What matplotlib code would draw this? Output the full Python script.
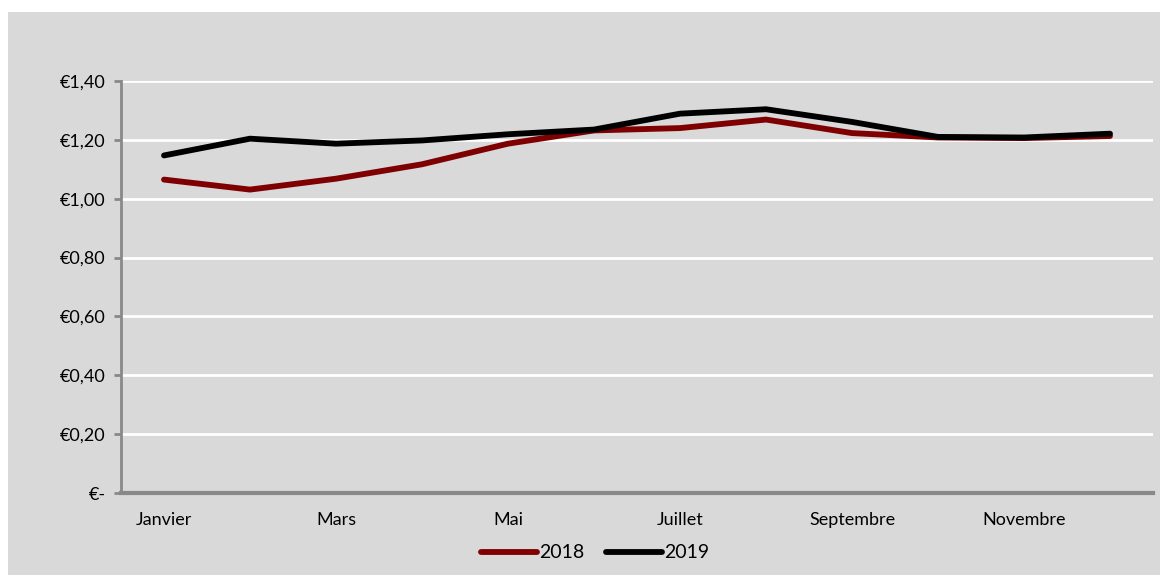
import matplotlib
matplotlib.use("Agg")
import matplotlib.pyplot as plt
from matplotlib import font_manager
from matplotlib.patches import Rectangle
from matplotlib.ticker import FuncFormatter

# données
mois = ["Janvier", "Février", "Mars", "Avril", "Mai", "Juin",
        "Juillet", "Août", "Septembre", "Octobre", "Novembre", "Décembre"]
prix_2018 = [1.065, 1.031, 1.068, 1.117, 1.187, 1.232,
             1.240, 1.269, 1.223, 1.208, 1.206, 1.213]
prix_2019 = [1.147, 1.204, 1.187, 1.198, 1.219, 1.235,
             1.289, 1.304, 1.261, 1.210, 1.208, 1.221]
y_ticks = [0, 0.2, 0.4, 0.6, 0.8, 1.0, 1.2, 1.4]

noms = {f.name for f in font_manager.fontManager.ttflist}
police = "Liberation Sans Narrow" if "Liberation Sans Narrow" in noms else "Lato"
plt.rcParams['font.family'] = [police, 'DejaVu Sans']

fond = "#d9d9d9"
gris_axe = "#898989"

fig = plt.figure(figsize=(11.68, 5.82), dpi=100, facecolor="white")
fig.patches.append(Rectangle((8 / 1168, 1 - 575 / 582), 1152 / 1168, 563 / 582,
                             transform=fig.transFigure, facecolor=fond,
                             edgecolor="none", zorder=-10))

ax = fig.add_axes([121 / 1168, 1 - 493 / 582, 1032 / 1168, 412 / 582])
ax.set_zorder(1)
ax.set_facecolor(fond)

x = list(range(len(mois)))
ax.plot(x, prix_2018, color="#7f0000", lw=4.2, solid_capstyle="round",
        solid_joinstyle="round", label="2018", zorder=3)
ax.plot(x, prix_2019, color="black", lw=4.2, solid_capstyle="round",
        solid_joinstyle="round", label="2019", zorder=4)

ax.set_xlim(-0.5, len(mois) - 0.5)
ax.set_ylim(0, 1.4)
ax.set_yticks(y_ticks)
ax.yaxis.set_major_formatter(FuncFormatter(
    lambda v, p: "€-" if v == 0 else "€" + f"{v:.2f}".replace(".", ",")))
ax.set_xticks(x[::2])
ax.set_xticklabels(mois[::2])

ax.grid(axis="y", color="white", lw=2)
ax.set_axisbelow(True)
for s in ["top", "right"]:
    ax.spines[s].set_visible(False)
ax.spines["left"].set_color(gris_axe)
ax.spines["left"].set_linewidth(2)
ax.spines["bottom"].set_color(gris_axe)
ax.spines["bottom"].set_linewidth(3)
ax.spines["bottom"].set_zorder(5)

ax.tick_params(axis="y", length=5, width=2, color=gris_axe, labelsize=13,
               pad=6, labelcolor="black")
ax.tick_params(axis="x", length=0, labelsize=13, pad=14, labelcolor="black")

leg = fig.legend(loc="center", bbox_to_anchor=(595 / 1168, 1 - 553 / 582),
                 ncol=2, frameon=False, fontsize=14, handlelength=2.9,
                 handletextpad=0.1, columnspacing=1.1)

fig.savefig("out.png", dpi=100, facecolor="white")
